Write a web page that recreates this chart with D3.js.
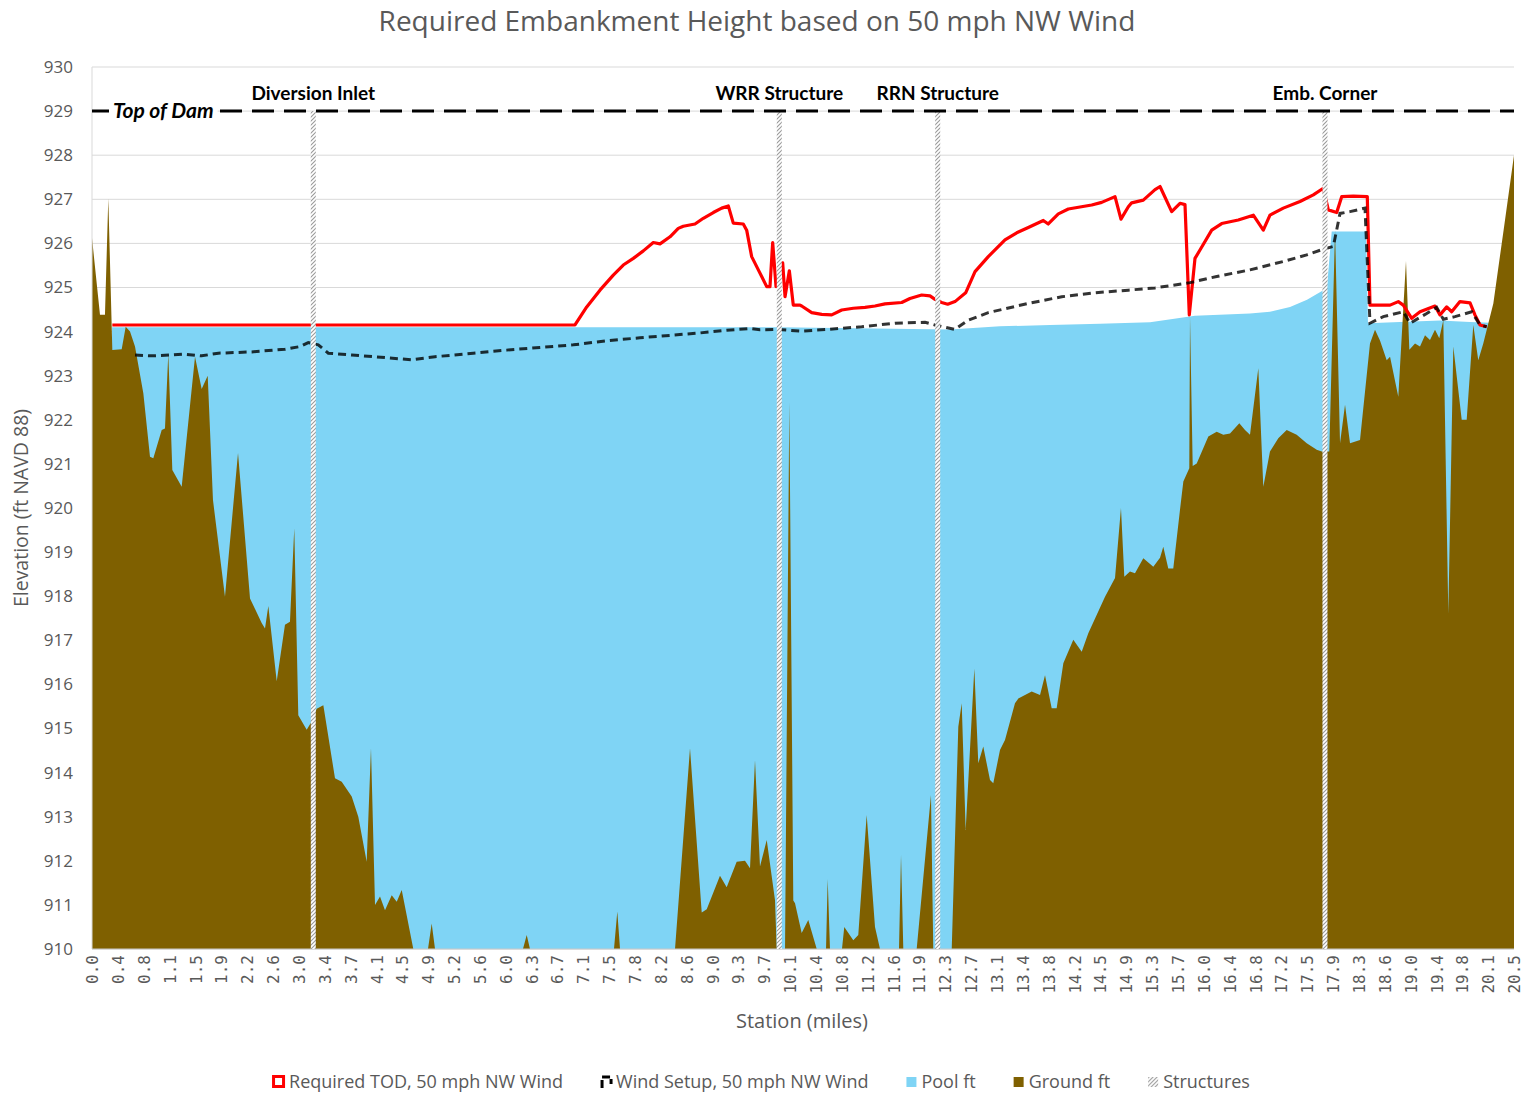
<!DOCTYPE html>
<html>
<head>
<meta charset="utf-8">
<script src="https://cdn.jsdelivr.net/npm/d3@7"></script>
<style>
  body { margin: 0; background: #fff; }
  svg { display: block; }
</style>
</head>
<body>
<svg id="chart" width="1528" height="1096"></svg>
<script>
// ---- Data ---------------------------------------------------------------
// Station tick labels (miles), one per category tick along the embankment
const stationLabels = ["0.0","0.4","0.8","1.1","1.5","1.9","2.2","2.6","3.0","3.4","3.7","4.1","4.5","4.9","5.2","5.6","6.0","6.3","6.7","7.1","7.5","7.8","8.2","8.6","9.0","9.3","9.7","10.1","10.4","10.8","11.2","11.6","11.9","12.3","12.7","13.1","13.4","13.8","14.2","14.5","14.9","15.3","15.7","16.0","16.4","16.8","17.2","17.5","17.9","18.3","18.6","19.0","19.4","19.8","20.1","20.5"];
const stationMax = 20.5;

// Elevation ticks (ft NAVD 88)
const elevationTicks = d3.range(910, 931, 1);
const elevationMin = 910, elevationMax = 930;

const topOfDam = 929;

// [station (mi), elevation (ft)]
const requiredTOD = [
  [0.293,924.15],[6.963,924.15],[7.132,924.56],[7.323,924.94],[7.515,925.28],[7.659,925.51],[7.804,925.66],
  [7.948,925.83],[8.092,926.02],[8.189,925.99],[8.333,926.15],[8.452,926.34],[8.524,926.39],[8.693,926.44],
  [8.813,926.57],[8.957,926.70],[9.078,926.80],[9.173,926.85],[9.245,926.46],[9.389,926.44],[9.438,926.30],
  [9.510,925.70],[9.606,925.40],[9.727,925.02],[9.774,925.02],[9.813,926.02],[9.861,925.02],[9.957,925.56],
  [9.991,924.79],[10.053,925.38],[10.110,924.60],[10.207,924.60],[10.231,924.58],[10.375,924.43],[10.520,924.39],
  [10.664,924.38],[10.808,924.49],[10.975,924.53],[11.144,924.55],[11.288,924.58],[11.432,924.63],[11.673,924.66],
  [11.792,924.75],[11.961,924.83],[12.081,924.81],[12.153,924.73],[12.249,924.66],[12.336,924.62],[12.441,924.68],
  [12.595,924.88],[12.730,925.36],[12.921,925.70],[13.162,926.08],[13.331,926.24],[13.498,926.36],[13.714,926.52],
  [13.786,926.44],[13.931,926.67],[14.075,926.78],[14.412,926.87],[14.556,926.93],[14.748,927.06],[14.834,926.55],
  [14.940,926.83],[14.988,926.92],[15.156,926.98],[15.325,927.22],[15.397,927.29],[15.565,926.72],[15.685,926.91],
  [15.757,926.88],[15.819,924.38],[15.901,925.66],[15.973,925.85],[16.142,926.30],[16.286,926.45],[16.525,926.53],
  [16.742,926.64],[16.886,926.30],[16.982,926.64],[17.174,926.80],[17.415,926.95],[17.607,927.10],[17.751,927.25],
  [17.823,926.76],[17.944,926.70],[18.016,927.06],[18.183,927.07],[18.385,927.06],[18.424,924.60],[18.713,924.60],
  [18.832,924.68],[18.904,924.60],[19.025,924.30],[19.145,924.45],[19.361,924.58],[19.433,924.38],[19.530,924.56],
  [19.602,924.45],[19.721,924.68],[19.866,924.65],[19.937,924.38],[20.010,924.15],[20.106,924.11]
];

const windSetup = [
  [0.620,923.47],[0.861,923.45],[1.149,923.47],[1.316,923.49],[1.581,923.45],[1.821,923.51],[2.302,923.54],
  [2.782,923.60],[2.999,923.66],[3.118,923.75],[3.262,923.70],[3.407,923.51],[3.744,923.47],[4.224,923.41],
  [4.609,923.36],[4.945,923.43],[5.497,923.51],[5.978,923.58],[6.458,923.64],[6.939,923.70],[7.420,923.79],
  [7.900,923.86],[8.380,923.92],[8.765,923.97],[9.150,924.03],[9.486,924.07],[9.630,924.04],[9.871,924.05],
  [10.207,924.01],[10.615,924.05],[11.096,924.11],[11.576,924.19],[12.009,924.21],[12.153,924.15],[12.441,924.05],
  [12.633,924.26],[12.921,924.43],[13.498,924.64],[13.980,924.79],[14.460,924.88],[14.940,924.94],[15.325,924.99],
  [15.829,925.11],[16.214,925.25],[16.694,925.40],[17.174,925.59],[17.512,925.74],[17.751,925.87],[17.895,925.93],
  [17.992,926.68],[18.136,926.72],[18.352,926.80],[18.424,924.19],[18.616,924.34],[18.904,924.45],[19.001,924.19],
  [19.241,924.41],[19.385,924.55],[19.481,924.28],[19.649,924.34],[19.890,924.45],[20.010,924.15],[20.106,924.11]
];

const pool = [
  [0.288,924.10],[9.904,924.10],[12.369,924.05],[13.090,924.12],[13.811,924.15],[14.532,924.18],[15.253,924.21],
  [15.901,924.36],[16.694,924.41],[16.982,924.45],[17.271,924.56],[17.516,924.72],[17.751,924.94],[17.800,924.94],
  [17.872,926.27],[18.366,926.27],[18.395,924.19],[18.856,924.22],[19.433,924.25],[19.866,924.22],[20.154,924.20]
];

const ground = [
  [0.000,926.12],[0.115,924.38],[0.187,924.38],[0.235,927.02],[0.293,923.58],[0.428,923.60],[0.486,924.11],
  [0.548,924.00],[0.620,923.66],[0.740,922.60],[0.836,921.16],[0.884,921.13],[1.005,921.77],[1.052,921.80],
  [1.100,923.50],[1.158,920.86],[1.293,920.48],[1.485,923.43],[1.581,922.70],[1.668,923.00],[1.744,920.18],
  [1.917,917.99],[2.105,921.25],[2.278,917.95],[2.446,917.39],[2.494,917.27],[2.542,917.78],[2.663,916.07],
  [2.782,917.35],[2.854,917.42],[2.916,919.54],[2.974,915.30],[3.095,914.97],[3.167,915.16],[3.239,915.45],
  [3.335,915.53],[3.503,913.87],[3.600,913.79],[3.744,913.46],[3.839,913.00],[3.960,911.98],[4.022,914.55],
  [4.080,911.00],[4.152,911.19],[4.224,910.88],[4.321,911.22],[4.393,911.07],[4.465,911.34],[4.632,910.00],
  [4.844,910.00],[4.897,910.58],[4.945,910.00],[6.213,910.00],[6.267,910.32],[6.314,910.00],[7.525,910.00],
  [7.573,910.85],[7.612,910.00],[8.405,910.00],[8.621,914.55],[8.790,910.83],[8.862,910.90],[9.053,911.66],
  [9.150,911.40],[9.294,911.98],[9.414,912.00],[9.486,911.83],[9.558,914.28],[9.630,911.87],[9.727,912.47],
  [9.846,911.11],[9.871,910.00],[9.991,910.00],[10.053,922.40],[10.110,911.10],[10.135,911.04],[10.231,910.36],
  [10.326,910.66],[10.448,910.00],[10.582,910.00],[10.606,911.59],[10.639,910.00],[10.812,910.00],[10.845,910.50],
  [10.975,910.20],[11.047,910.32],[11.168,913.04],[11.288,910.50],[11.360,910.00],[11.634,910.00],[11.663,912.13],
  [11.696,910.00],[11.889,910.00],[12.095,913.49],[12.128,910.00],[12.394,910.00],[12.489,915.04],[12.538,915.57],
  [12.595,912.70],[12.720,916.36],[12.777,914.21],[12.849,914.59],[12.946,913.83],[12.993,913.76],[13.090,914.51],
  [13.162,914.74],[13.306,915.57],[13.354,915.68],[13.547,915.84],[13.667,915.76],[13.739,916.21],[13.835,915.46],
  [13.907,915.46],[14.003,916.48],[14.147,917.01],[14.268,916.74],[14.363,917.16],[14.604,917.99],[14.748,918.41],
  [14.834,920.00],[14.882,918.44],[14.964,918.56],[15.036,918.52],[15.156,918.86],[15.300,918.67],[15.397,918.87],
  [15.444,919.12],[15.516,918.63],[15.588,918.63],[15.685,919.96],[15.733,920.60],[15.819,920.90],[15.829,924.34],
  [15.868,920.95],[15.926,921.01],[16.093,921.62],[16.214,921.73],[16.309,921.66],[16.406,921.69],[16.540,921.92],
  [16.622,921.77],[16.694,921.66],[16.814,923.17],[16.886,920.48],[16.982,921.28],[17.102,921.58],[17.223,921.77],
  [17.367,921.66],[17.512,921.47],[17.656,921.32],[17.728,921.28],[17.837,921.28],[17.920,926.30],[17.992,921.47],
  [18.064,922.34],[18.136,921.47],[18.280,921.54],[18.424,923.73],[18.496,924.04],[18.568,923.80],[18.665,923.35],
  [18.713,923.43],[18.832,922.52],[18.943,925.60],[18.991,923.59],[19.073,923.73],[19.145,923.66],[19.217,923.92],
  [19.289,923.81],[19.361,924.04],[19.423,923.85],[19.481,924.26],[19.553,917.60],[19.625,923.66],[19.746,922.00],
  [19.818,922.00],[19.913,924.15],[19.985,923.35],[20.057,923.73],[20.202,924.64],[20.350,926.30],[20.500,928.00]
];

const structureNames = ["Diversion Inlet", "WRR Structure", "RRN Structure", "Emb. Corner"];
const structureStations = [3.190, 9.908, 12.192, 17.775];

const legendLabels = ["Required TOD, 50 mph NW Wind", "Wind Setup, 50 mph NW Wind", "Pool ft", "Ground ft", "Structures"];

// ---- Layout -------------------------------------------------------------
const plot = { left: 92, right: 1514, top: 67, bottom: 949 };
const textGray = "#595959";
const colors = { tod: "#ff0000", wind: "#000000", pool: "#7fd4f5", ground: "#7f6000", grid: "#d9d9d9" };

const svg = d3.select("#chart");
const x = d3.scaleLinear().domain([0, stationMax]).range([plot.left, plot.right]);
const y = d3.scaleLinear().domain([elevationMin, elevationMax]).range([plot.bottom, plot.top]);

// hatch for structure bars
const defs = svg.append("defs");
const hatch = defs.append("pattern").attr("id", "hatch")
  .attr("patternUnits", "userSpaceOnUse").attr("width", 4).attr("height", 4);
hatch.append("rect").attr("width", 4).attr("height", 4).attr("fill", "#ffffff");
hatch.append("path").attr("d", "M-1,1 L1,-1 M0,4 L4,0 M3,5 L5,3")
  .attr("stroke", "#9a9a9a").attr("stroke-width", 1.1);

// title
svg.append("text")
  .attr("x", 757).attr("y", 31)
  .attr("text-anchor", "middle")
  .attr("font-family", "'Open Sans', sans-serif").attr("font-size", 28)
  .attr("fill", textGray)
  .text("Required Embankment Height based on 50 mph NW Wind");

// horizontal gridlines
svg.append("g").selectAll("line").data(elevationTicks).join("line")
  .attr("x1", plot.left).attr("x2", plot.right)
  .attr("y1", d => y(d)).attr("y2", d => y(d))
  .attr("stroke", colors.grid).attr("stroke-width", 1);

// pool and ground areas
const area = d3.area().x(d => x(d[0])).y0(y(elevationMin)).y1(d => y(d[1]));
svg.append("path").datum(pool).attr("d", area).attr("fill", colors.pool);
svg.append("path").datum(ground).attr("d", area).attr("fill", colors.ground);

// axis lines
svg.append("line").attr("x1", plot.left).attr("x2", plot.left)
  .attr("y1", plot.top).attr("y2", plot.bottom).attr("stroke", colors.grid);
svg.append("line").attr("x1", plot.left).attr("x2", plot.right)
  .attr("y1", plot.bottom).attr("y2", plot.bottom).attr("stroke", "#c8c8c8");

// required top of dam & wind setup lines
const line = d3.line().x(d => x(d[0])).y(d => y(d[1]));
svg.append("path").datum(requiredTOD).attr("d", line)
  .attr("fill", "none").attr("stroke", colors.tod).attr("stroke-width", 3.2)
  .attr("stroke-linejoin", "round");
svg.append("path").datum(windSetup).attr("d", line)
  .attr("fill", "none").attr("stroke", colors.wind).attr("stroke-opacity", 0.8)
  .attr("stroke-width", 3).attr("stroke-dasharray", "8,5");

// structure bars
const structures = structureNames.map((name, i) => ({ name, station: structureStations[i] }));
svg.append("g").selectAll("rect").data(structures).join("rect")
  .attr("x", d => x(d.station) - 2.5).attr("width", 5)
  .attr("y", y(topOfDam)).attr("height", y(elevationMin) - y(topOfDam))
  .attr("fill", "url(#hatch)");

// top of dam
svg.append("line")
  .attr("x1", plot.left).attr("x2", plot.right)
  .attr("y1", y(topOfDam)).attr("y2", y(topOfDam))
  .attr("stroke", "#000").attr("stroke-width", 3).attr("stroke-dasharray", "22,10");
const todLabel = svg.append("text")
  .attr("x", 113).attr("y", y(topOfDam) + 7)
  .attr("font-family", "Lato, sans-serif").attr("font-size", 21)
  .attr("font-weight", "bold").attr("font-style", "italic").attr("fill", "#000")
  .text("Top of Dam");
const tb = todLabel.node().getBBox();
svg.insert("rect", () => todLabel.node())
  .attr("x", tb.x - 4).attr("y", tb.y).attr("width", tb.width + 8).attr("height", tb.height)
  .attr("fill", "#fff");

// structure labels
svg.append("g").selectAll("text").data(structures).join("text")
  .attr("x", d => x(d.station)).attr("y", y(topOfDam) - 11)
  .attr("text-anchor", "middle")
  .attr("font-family", "Lato, sans-serif").attr("font-size", 19).attr("font-weight", "bold")
  .attr("fill", "#000")
  .text(d => d.name);

// y axis
const yAxis = svg.append("g").attr("transform", `translate(${plot.left},0)`)
  .call(d3.axisLeft(y).tickValues(elevationTicks).tickFormat(d3.format("d")).tickSize(0).tickPadding(19));
yAxis.select(".domain").remove();
yAxis.selectAll("text").attr("font-family", "'Open Sans', sans-serif").attr("font-size", 17).attr("fill", textGray);

// x axis (evenly spaced category ticks)
const tickPos = stationLabels.map((_, i) => i * stationMax / (stationLabels.length - 1));
const xAxis = svg.append("g").attr("transform", `translate(0,${plot.bottom})`)
  .call(d3.axisBottom(x).tickValues(tickPos).tickFormat((d, i) => stationLabels[i]).tickSize(0));
xAxis.select(".domain").remove();
xAxis.selectAll("text")
  .attr("transform", "rotate(-90)")
  .attr("x", -6).attr("y", 0).attr("dy", "0.35em")
  .style("text-anchor", "end")
  .attr("font-family", "'DejaVu Sans Mono', monospace").attr("font-size", 16).attr("fill", textGray);

// axis titles
svg.append("text")
  .attr("transform", `translate(28,${(plot.top + plot.bottom) / 2}) rotate(-90)`)
  .attr("text-anchor", "middle")
  .attr("font-family", "'Open Sans', sans-serif").attr("font-size", 19.5).attr("fill", textGray)
  .text("Elevation (ft NAVD 88)");
svg.append("text")
  .attr("x", 802).attr("y", 1028)
  .attr("text-anchor", "middle")
  .attr("font-family", "'Open Sans', sans-serif").attr("font-size", 20).attr("fill", textGray)
  .text("Station (miles)");

// legend
const legend = svg.append("g");
const legendY = 1082;
let cursor = 0;
legendLabels.forEach((label, i) => {
  const g = legend.append("g").attr("transform", `translate(${cursor},0)`);
  if (i === 0) {
    g.append("rect").attr("x", 1.5).attr("y", legendY - 5.5).attr("width", 10).attr("height", 10)
      .attr("fill", "#fff").attr("stroke", colors.tod).attr("stroke-width", 3);
  } else if (i === 1) {
    g.append("path").attr("d", `M3,${legendY + 6} L3,${legendY - 5} L12,${legendY - 5} L12,${legendY + 2}`)
      .attr("fill", "none").attr("stroke", "#000").attr("stroke-width", 3).attr("stroke-dasharray", "8,3");
  } else if (i === 2) {
    g.append("rect").attr("x", 2).attr("y", legendY - 5).attr("width", 10).attr("height", 10).attr("fill", colors.pool);
  } else if (i === 3) {
    g.append("rect").attr("x", 2).attr("y", legendY - 5).attr("width", 10).attr("height", 10).attr("fill", colors.ground);
  } else {
    g.append("rect").attr("x", 2).attr("y", legendY - 5).attr("width", 10).attr("height", 10).attr("fill", "url(#hatch)");
  }
  const t = g.append("text").attr("x", 17).attr("y", legendY).attr("dy", "0.35em")
    .attr("font-family", "'Open Sans', sans-serif").attr("font-size", 18).attr("fill", textGray)
    .text(label);
  cursor += 17 + t.node().getComputedTextLength() + 36;
});
const legendWidth = cursor - 36;
legend.attr("transform", `translate(${761 - legendWidth / 2},0)`);
</script>
</body>
</html>
